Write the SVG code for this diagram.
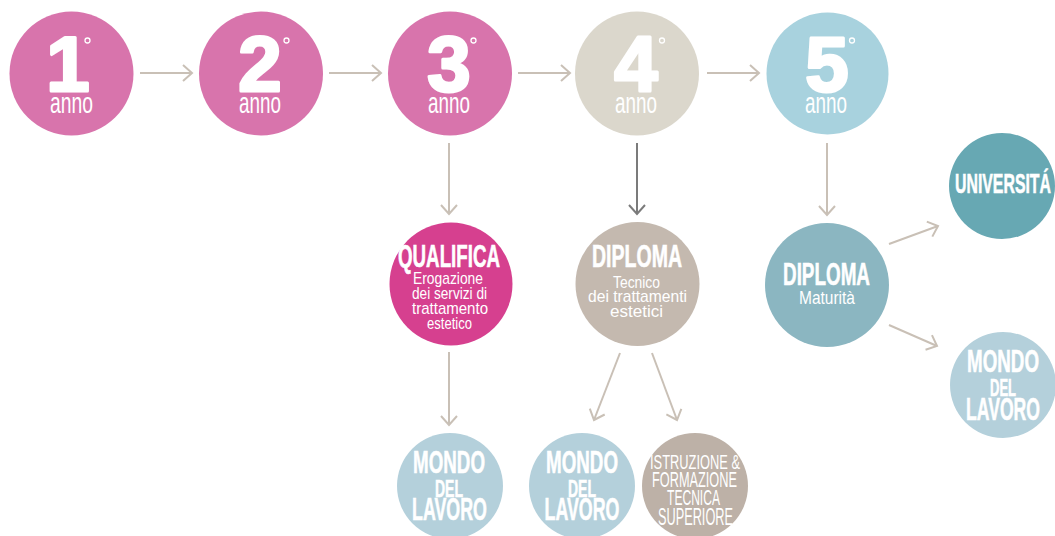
<svg xmlns="http://www.w3.org/2000/svg" width="1055" height="536" viewBox="0 0 1055 536">
<defs>
<marker id="ah" viewBox="-12 -10 14 20" refX="0" refY="0" markerWidth="14" markerHeight="20" markerUnits="userSpaceOnUse" orient="auto">
<path d="M-9,-8 L0,0 L-9,8" fill="none" stroke="#c9c0b6" stroke-width="2"/>
</marker>
<marker id="ahd" viewBox="-12 -10 14 20" refX="0" refY="0" markerWidth="14" markerHeight="20" markerUnits="userSpaceOnUse" orient="auto">
<path d="M-9,-8 L0,0 L-9,8" fill="none" stroke="#7b7b7b" stroke-width="2"/>
</marker>
</defs>
<style>
.c{fill:none;stroke:#c9c0b6;stroke-width:2;marker-end:url(#ah)}
.cd{fill:none;stroke:#7b7b7b;stroke-width:2;marker-end:url(#ahd)}
text{fill:#ffffff;font-family:"Liberation Sans Narrow","Liberation Sans",Arial,sans-serif;text-anchor:middle}
.num{font-family:"Liberation Sans",Arial,sans-serif;font-weight:700;font-size:78px;stroke:#ffffff;stroke-width:3;stroke-linejoin:round}
.anno{font-size:30px}
.h{font-weight:700;stroke:#ffffff;stroke-width:0.6}
.s{font-size:17px}
.deg{fill:none;stroke:#ffffff;stroke-width:1.3}
</style>
<rect width="1055" height="536" fill="#ffffff"/>
<g id="connectors">
<line class="c" x1="140" y1="73" x2="192" y2="73"/>
<line class="c" x1="329" y1="73" x2="381" y2="73"/>
<line class="c" x1="518" y1="73" x2="570" y2="73"/>
<line class="c" x1="707" y1="73" x2="759" y2="73"/>
<line class="c" x1="449" y1="143" x2="449" y2="214"/>
<line class="cd" x1="637" y1="143" x2="637" y2="214"/>
<line class="c" x1="827" y1="143" x2="827" y2="215"/>
<line class="c" x1="449" y1="352" x2="449" y2="425"/>
<line class="c" x1="620" y1="353" x2="594" y2="420"/>
<line class="c" x1="652" y1="353" x2="677" y2="420"/>
<line class="c" x1="889" y1="244" x2="938" y2="226"/>
<line class="c" x1="889" y1="325" x2="937" y2="346"/>
</g>
<g id="anno1">
<circle cx="71.5" cy="73.5" r="62" fill="#d874ac"/>
<text class="num" x="68" y="91">1</text>
<circle class="deg" cx="87.5" cy="40.5" r="2.5"/>
<text class="anno" x="71.5" y="113" textLength="43" lengthAdjust="spacingAndGlyphs">anno</text>
</g>
<g id="anno2">
<circle cx="261" cy="73.5" r="62" fill="#d874ac"/>
<text class="num" x="260" y="91">2</text>
<circle class="deg" cx="286.5" cy="40.5" r="2.5"/>
<text class="anno" x="260" y="113" textLength="42" lengthAdjust="spacingAndGlyphs">anno</text>
</g>
<g id="anno3">
<circle cx="450" cy="73.5" r="62" fill="#d874ac"/>
<text class="num" x="449" y="91">3</text>
<circle class="deg" cx="473.5" cy="40.5" r="2.5"/>
<text class="anno" x="449" y="113" textLength="42" lengthAdjust="spacingAndGlyphs">anno</text>
</g>
<g id="anno4">
<circle cx="637" cy="73.5" r="62" fill="#dbd7cc"/>
<text class="num" x="636" y="91">4</text>
<circle class="deg" cx="662" cy="40.5" r="2.5"/>
<text class="anno" x="636" y="113" textLength="42" lengthAdjust="spacingAndGlyphs">anno</text>
</g>
<g id="anno5">
<circle cx="827.5" cy="73.5" r="61" fill="#a8d2de"/>
<text class="num" x="827" y="91">5</text>
<circle class="deg" cx="852" cy="40.5" r="2.5"/>
<text class="anno" x="826" y="113" textLength="42" lengthAdjust="spacingAndGlyphs">anno</text>
</g>
<g id="qualifica">
<circle cx="451" cy="284" r="61.5" fill="#d6408f"/>
<text class="h" x="449" y="267" font-size="31" textLength="102" lengthAdjust="spacingAndGlyphs">QUALIFICA</text>
<text class="s" x="448" y="284" textLength="70" lengthAdjust="spacingAndGlyphs">Erogazione</text>
<text class="s" x="449.5" y="299" textLength="75" lengthAdjust="spacingAndGlyphs">dei servizi di</text>
<text class="s" x="450" y="314" textLength="76" lengthAdjust="spacingAndGlyphs">trattamento</text>
<text class="s" x="449.5" y="329" textLength="45" lengthAdjust="spacingAndGlyphs">estetico</text>
</g>
<g id="diploma-tecnico">
<circle cx="637.5" cy="284" r="62" fill="#c4b9af"/>
<text class="h" x="637" y="267" font-size="31" textLength="90" lengthAdjust="spacingAndGlyphs">DIPLOMA</text>
<text class="s" x="636.5" y="288" textLength="47" lengthAdjust="spacingAndGlyphs">Tecnico</text>
<text class="s" x="637.5" y="302" textLength="99" lengthAdjust="spacingAndGlyphs">dei trattamenti</text>
<text class="s" x="636.5" y="317" textLength="53" lengthAdjust="spacingAndGlyphs">estetici</text>
</g>
<g id="diploma-maturita">
<circle cx="827" cy="285" r="62" fill="#8bb6c1"/>
<text class="h" x="826.5" y="285" font-size="31" textLength="87" lengthAdjust="spacingAndGlyphs">DIPLOMA</text>
<text x="827" y="304" font-size="19" textLength="56" lengthAdjust="spacingAndGlyphs">Maturità</text>
</g>
<g id="universita">
<circle cx="1002" cy="186" r="53" fill="#67a8b3"/>
<text class="h" x="1003" y="193" font-size="28" textLength="96" lengthAdjust="spacingAndGlyphs">UNIVERSITÁ</text>
</g>
<g id="mondo-right">
<circle cx="1003" cy="385" r="53" fill="#b4d0db"/>
<text class="h" x="1003" y="372" font-size="31" textLength="72" lengthAdjust="spacingAndGlyphs">MONDO</text>
<text class="h" x="1003" y="396" font-size="23" textLength="26" lengthAdjust="spacingAndGlyphs">DEL</text>
<text class="h" x="1003" y="420" font-size="31" textLength="74" lengthAdjust="spacingAndGlyphs">LAVORO</text>
</g>
<g id="mondo-1">
<circle cx="450" cy="486" r="53" fill="#b4d0db"/>
<text class="h" x="449" y="473" font-size="32" textLength="72" lengthAdjust="spacingAndGlyphs">MONDO</text>
<text class="h" x="449" y="497" font-size="24" textLength="28" lengthAdjust="spacingAndGlyphs">DEL</text>
<text class="h" x="449.5" y="520" font-size="31" textLength="75" lengthAdjust="spacingAndGlyphs">LAVORO</text>
</g>
<g id="mondo-2">
<circle cx="582" cy="486" r="53" fill="#b4d0db"/>
<text class="h" x="582" y="473" font-size="32" textLength="72" lengthAdjust="spacingAndGlyphs">MONDO</text>
<text class="h" x="582" y="497" font-size="24" textLength="28" lengthAdjust="spacingAndGlyphs">DEL</text>
<text class="h" x="582" y="520" font-size="31" textLength="75" lengthAdjust="spacingAndGlyphs">LAVORO</text>
</g>
<g id="istruzione">
<circle cx="695" cy="486" r="53" fill="#bdb1a7"/>
<text x="695" y="469" font-size="20" textLength="90" lengthAdjust="spacingAndGlyphs">ISTRUZIONE &amp;</text>
<text x="694.5" y="487" font-size="22" textLength="85" lengthAdjust="spacingAndGlyphs">FORMAZIONE</text>
<text x="693.5" y="505" font-size="22" textLength="53" lengthAdjust="spacingAndGlyphs">TECNICA</text>
<text x="695.5" y="525" font-size="23" textLength="75" lengthAdjust="spacingAndGlyphs">SUPERIORE</text>
</g>
</svg>
